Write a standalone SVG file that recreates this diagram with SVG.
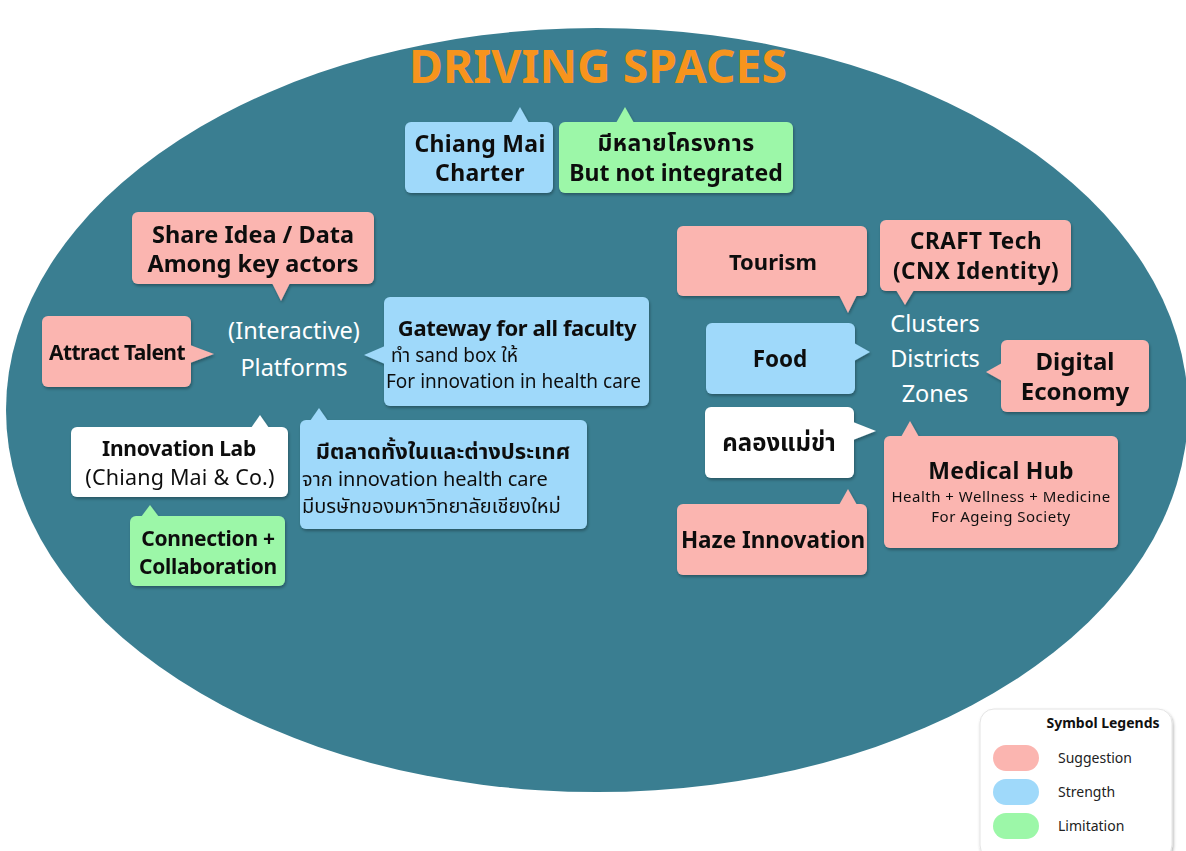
<svg xmlns="http://www.w3.org/2000/svg" width="1186" height="851" viewBox="0 0 1186 851">
<defs>
<filter id="sh" x="-10%" y="-10%" width="120%" height="130%">
<feDropShadow dx="1" dy="2" stdDeviation="1.5" flood-color="#000" flood-opacity="0.3"/>
</filter>
<style>
text{font-family:"Noto Sans","Noto Sans Thai","Liberation Sans",sans-serif;fill:#111;}
.b{font-weight:bold;}
.c{text-anchor:middle;}
.pink{fill:#fbb5b0;}
.blue{fill:#9fd9fa;}
.green{fill:#9cf7a8;}
.white{fill:#ffffff;}
.wt{fill:#ffffff;font-size:23.5px;text-anchor:middle;}
.t23{font-size:23px;}
.t19{font-size:19px;}
.lg{font-size:14px;fill:#222;}
</style>
</defs>
<rect width="1186" height="851" fill="#ffffff"/>
<ellipse id="space" cx="597" cy="410" rx="591" ry="382" fill="#3a7e91"/>
<text x="598" y="83" class="b c" style="font-size:46px;fill:#f7941d" textLength="378" lengthAdjust="spacingAndGlyphs">DRIVING SPACES</text>

<g id="platforms-label">
<text x="294" y="339" class="wt">(Interactive)</text>
<text x="294" y="376" class="wt">Platforms</text>
</g>
<g id="clusters-label">
<text x="935" y="332" class="wt">Clusters</text>
<text x="935" y="367" class="wt">Districts</text>
<text x="935" y="402" class="wt">Zones</text>
</g>

<g id="connectors"></g>

<g id="chiang-mai-charter" filter="url(#sh)">
<rect x="405" y="122" width="148" height="71" rx="6" class="blue"/>
<polygon points="511,123 529,123 520,107" class="blue"/>
<text x="480" y="152" class="b c" style="font-size:23px;letter-spacing:0.3px">Chiang Mai</text>
<text x="480" y="181" class="b c" style="font-size:23px;letter-spacing:0.3px">Charter</text>
</g>
<g id="many-projects" filter="url(#sh)">
<rect x="559" y="122" width="234" height="71" rx="6" class="green"/>
<polygon points="616,123 634,123 625,107" class="green"/>
<text x="676" y="151" class="b c" style="font-size:23px;letter-spacing:0.5px">มีหลายโครงการ</text>
<text x="676" y="181" class="b c t23">But not integrated</text>
</g>
<g id="share-idea" filter="url(#sh)">
<rect x="132" y="212" width="242" height="72" rx="6" class="pink"/>
<polygon points="272,283 290,283 281,301" class="pink"/>
<text x="253" y="243" class="b c" style="font-size:23.5px">Share Idea / Data</text>
<text x="253" y="272" class="b c" style="font-size:23.5px">Among key actors</text>
</g>
<g id="attract-talent" filter="url(#sh)">
<rect x="42" y="316" width="149" height="71" rx="6" class="pink"/>
<polygon points="190,345 190,363 214,354" class="pink"/>
<text x="117" y="360" class="b c" style="font-size:21px;letter-spacing:-0.6px">Attract Talent</text>
</g>
<g id="gateway" filter="url(#sh)">
<rect x="384" y="297" width="265" height="109" rx="6" class="blue"/>
<polygon points="385,346 385,364 364,355" class="blue"/>
<text x="517" y="336" class="b c" style="font-size:22px;letter-spacing:-0.4px">Gateway for all faculty</text>
<text x="391" y="362" class="t19">ทำ sand box ให้</text>
<text x="386" y="388" class="t19">For innovation in health care</text>
</g>
<g id="innovation-lab" filter="url(#sh)">
<rect x="71" y="427" width="217" height="70" rx="6" class="white"/>
<polygon points="251,428 269,428 260,415" class="white"/>
<text x="179" y="456" class="b c" style="font-size:21px;letter-spacing:-0.3px">Innovation Lab</text>
<text x="180" y="485" class="c" style="font-size:21.5px;letter-spacing:0.2px">(Chiang Mai &amp; Co.)</text>
</g>
<g id="market" filter="url(#sh)">
<rect x="300" y="420" width="287" height="109" rx="6" class="blue"/>
<polygon points="310,421 328,421 319,408" class="blue"/>
<text x="443" y="459" class="b c" style="font-size:22px">มีตลาดทั้งในและต่างประเทศ</text>
<text x="302" y="486" style="font-size:20px">จาก innovation health care</text>
<text x="302" y="513" style="font-size:20px">มีบรษัทของมหาวิทยาลัยเชียงใหม่</text>
</g>
<g id="connection" filter="url(#sh)">
<rect x="130" y="516" width="155" height="70" rx="6" class="green"/>
<polygon points="141,517 159,517 150,505" class="green"/>
<text x="208" y="546" class="b c" style="font-size:21px;letter-spacing:-0.3px">Connection +</text>
<text x="208" y="574" class="b c" style="font-size:21px;letter-spacing:-0.3px">Collaboration</text>
</g>
<g id="tourism" filter="url(#sh)">
<rect x="677" y="226" width="190" height="70" rx="6" class="pink"/>
<polygon points="839,295 857,295 848,313" class="pink"/>
<text x="773" y="270" class="b c" style="font-size:22px">Tourism</text>
</g>
<g id="craft-tech" filter="url(#sh)">
<rect x="880" y="220" width="191" height="71" rx="6" class="pink"/>
<polygon points="896,290 914,290 905,305" class="pink"/>
<text x="976" y="249" class="b c" style="font-size:22.5px;letter-spacing:0.5px">CRAFT Tech</text>
<text x="976" y="279" class="b c" style="font-size:22.5px;letter-spacing:0.5px">(CNX Identity)</text>
</g>
<g id="food" filter="url(#sh)">
<rect x="706" y="323" width="149" height="71" rx="6" class="blue"/>
<polygon points="854,343 854,361 870,352" class="blue"/>
<text x="780" y="367" class="b c" style="font-size:22.5px">Food</text>
</g>
<g id="digital-economy" filter="url(#sh)">
<rect x="1001" y="340" width="148" height="72" rx="6" class="pink"/>
<polygon points="1002,363 1002,381 986,372" class="pink"/>
<text x="1075" y="370" class="b c" style="font-size:24px">Digital</text>
<text x="1075" y="400" class="b c" style="font-size:24px">Economy</text>
</g>
<g id="khlong-mae-kha" filter="url(#sh)">
<rect x="705" y="407" width="149" height="71" rx="6" class="white"/>
<polygon points="853,422 853,440 876,431" class="white"/>
<text x="779" y="451" class="b c" style="font-size:24px">คลองแม่ข่า</text>
</g>
<g id="medical-hub" filter="url(#sh)">
<rect x="884" y="436" width="234" height="112" rx="6" class="pink"/>
<polygon points="901,437 919,437 910,421" class="pink"/>
<text x="1001" y="479" class="b c" style="font-size:23px;letter-spacing:0.3px">Medical Hub</text>
<text x="1001" y="502" class="c" style="font-size:15px;letter-spacing:0.5px">Health + Wellness + Medicine</text>
<text x="1001" y="522" class="c" style="font-size:15px;letter-spacing:0.5px">For Ageing Society</text>
</g>
<g id="haze-innovation" filter="url(#sh)">
<rect x="677" y="504" width="190" height="71" rx="6" class="pink"/>
<polygon points="839,505 857,505 848,489" class="pink"/>
<text x="773" y="548" class="b c" style="font-size:22.5px">Haze Innovation</text>
</g>

<g id="legend">
<rect x="980" y="709" width="192" height="150" rx="14" fill="#ffffff" stroke="#e4e4e4" stroke-width="1" filter="url(#sh)"/>
<text x="1103" y="728" class="b c" style="font-size:14px">Symbol Legends</text>
<rect x="993" y="745" width="46" height="26" rx="13" class="pink"/>
<rect x="993" y="779" width="46" height="26" rx="13" class="blue"/>
<rect x="993" y="813" width="46" height="26" rx="13" class="green"/>
<text x="1058" y="763" class="lg">Suggestion</text>
<text x="1058" y="797" class="lg">Strength</text>
<text x="1058" y="831" class="lg">Limitation</text>
</g>
</svg>
